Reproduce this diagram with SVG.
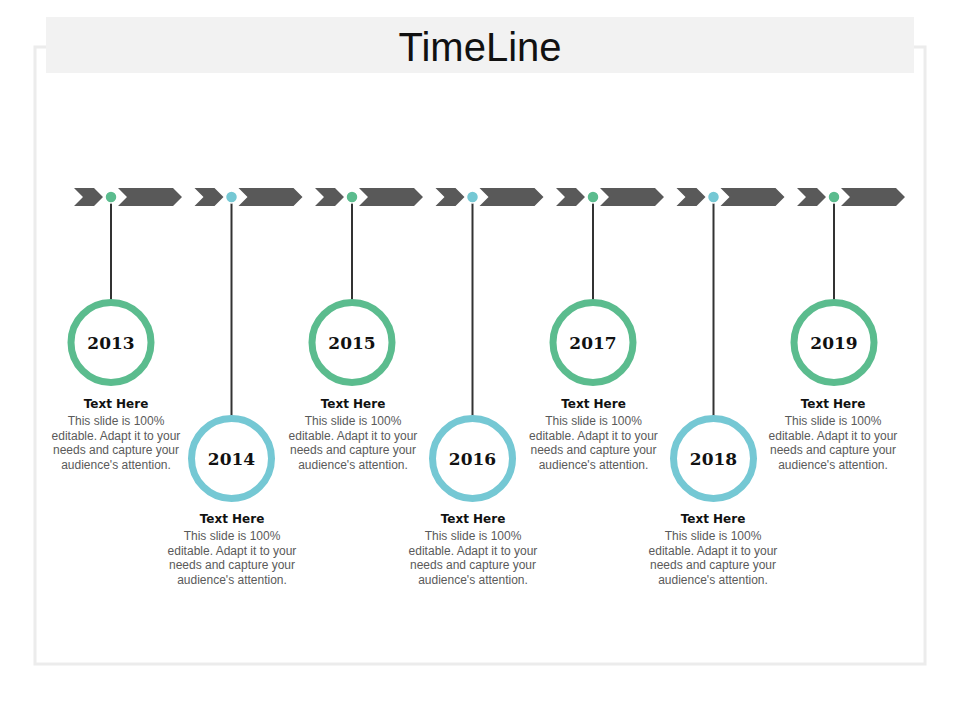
<svg xmlns="http://www.w3.org/2000/svg" width="960" height="720" viewBox="0 0 960 720">
<defs>
<style>
.frame{fill:#fff;stroke:#ececec;stroke-width:3}
.bar{fill:#f2f2f2}
.title{font-family:"Liberation Sans",Arial,sans-serif;font-size:40px;fill:#111;text-anchor:middle}
.chev{fill:#595959}
.stem{stroke:#333;stroke-width:2}
.ring-g{fill:#fff;stroke:#5bbc8e;stroke-width:7}
.ring-b{fill:#fff;stroke:#75c8d4;stroke-width:7}
.dot-g{fill:#5bbc8e;stroke:#fff;stroke-width:1.5}
.dot-b{fill:#75c8d4;stroke:#fff;stroke-width:1.5}
.year{font-family:"DejaVu Serif",serif;font-weight:bold;font-size:17px;fill:#111;text-anchor:middle}
.head{font-family:"DejaVu Sans",sans-serif;font-weight:bold;font-size:12px;fill:#111;text-anchor:middle}
.body{font-family:"Liberation Sans",Arial,sans-serif;font-size:12px;fill:#5a5a5a;text-anchor:middle}
</style>
<polygon id="c1" points="-37,188 -17,188 -8,197 -17,206 -37,206 -28,197"/>
<polygon id="c2" points="7,188 62,188 71,197 62,206 7,206 16,197"/>
</defs>
<rect class="frame" x="35" y="47" width="890" height="617"/>
<rect class="bar" x="46" y="17" width="868" height="56"/>
<text class="title" x="480" y="61">TimeLine</text>

<g id="arrows">
<use href="#c1" class="chev" x="111"/><use href="#c2" class="chev" x="111"/>
<use href="#c1" class="chev" x="231.5"/><use href="#c2" class="chev" x="231.5"/>
<use href="#c1" class="chev" x="352"/><use href="#c2" class="chev" x="352"/>
<use href="#c1" class="chev" x="472.5"/><use href="#c2" class="chev" x="472.5"/>
<use href="#c1" class="chev" x="593"/><use href="#c2" class="chev" x="593"/>
<use href="#c1" class="chev" x="713.5"/><use href="#c2" class="chev" x="713.5"/>
<use href="#c1" class="chev" x="834"/><use href="#c2" class="chev" x="834"/>
</g>

<g id="connectors">
<line class="stem" x1="111" y1="197" x2="111" y2="300"/>
<line class="stem" x1="231.5" y1="197" x2="231.5" y2="416"/>
<line class="stem" x1="352" y1="197" x2="352" y2="300"/>
<line class="stem" x1="472.5" y1="197" x2="472.5" y2="416"/>
<line class="stem" x1="593" y1="197" x2="593" y2="300"/>
<line class="stem" x1="713.5" y1="197" x2="713.5" y2="416"/>
<line class="stem" x1="834" y1="197" x2="834" y2="300"/>
</g>

<g id="node-2013">
<circle class="dot-g" cx="111" cy="197" r="6"/>
<circle class="ring-g" cx="111" cy="342.5" r="40"/>
<text class="year" x="111" y="349">2013</text>
<text class="head" x="116" y="408">Text Here</text>
<text class="body" x="116" y="425">This slide is 100%</text>
<text class="body" x="116" y="439.5">editable. Adapt it to your</text>
<text class="body" x="116" y="454">needs and capture your</text>
<text class="body" x="116" y="468.5">audience's attention.</text>
</g>

<g id="node-2014">
<circle class="dot-b" cx="231.5" cy="197" r="6"/>
<circle class="ring-b" cx="231.5" cy="458.5" r="40"/>
<text class="year" x="231.5" y="465">2014</text>
<text class="head" x="232" y="523">Text Here</text>
<text class="body" x="232" y="540">This slide is 100%</text>
<text class="body" x="232" y="554.5">editable. Adapt it to your</text>
<text class="body" x="232" y="569">needs and capture your</text>
<text class="body" x="232" y="583.5">audience's attention.</text>
</g>

<g id="node-2015">
<circle class="dot-g" cx="352" cy="197" r="6"/>
<circle class="ring-g" cx="352" cy="342.5" r="40"/>
<text class="year" x="352" y="349">2015</text>
<text class="head" x="353" y="408">Text Here</text>
<text class="body" x="353" y="425">This slide is 100%</text>
<text class="body" x="353" y="439.5">editable. Adapt it to your</text>
<text class="body" x="353" y="454">needs and capture your</text>
<text class="body" x="353" y="468.5">audience's attention.</text>
</g>

<g id="node-2016">
<circle class="dot-b" cx="472.5" cy="197" r="6"/>
<circle class="ring-b" cx="472.5" cy="458.5" r="40"/>
<text class="year" x="472.5" y="465">2016</text>
<text class="head" x="473" y="523">Text Here</text>
<text class="body" x="473" y="540">This slide is 100%</text>
<text class="body" x="473" y="554.5">editable. Adapt it to your</text>
<text class="body" x="473" y="569">needs and capture your</text>
<text class="body" x="473" y="583.5">audience's attention.</text>
</g>

<g id="node-2017">
<circle class="dot-g" cx="593" cy="197" r="6"/>
<circle class="ring-g" cx="593" cy="342.5" r="40"/>
<text class="year" x="593" y="349">2017</text>
<text class="head" x="593.5" y="408">Text Here</text>
<text class="body" x="593.5" y="425">This slide is 100%</text>
<text class="body" x="593.5" y="439.5">editable. Adapt it to your</text>
<text class="body" x="593.5" y="454">needs and capture your</text>
<text class="body" x="593.5" y="468.5">audience's attention.</text>
</g>

<g id="node-2018">
<circle class="dot-b" cx="713.5" cy="197" r="6"/>
<circle class="ring-b" cx="713.5" cy="458.5" r="40"/>
<text class="year" x="713.5" y="465">2018</text>
<text class="head" x="713" y="523">Text Here</text>
<text class="body" x="713" y="540">This slide is 100%</text>
<text class="body" x="713" y="554.5">editable. Adapt it to your</text>
<text class="body" x="713" y="569">needs and capture your</text>
<text class="body" x="713" y="583.5">audience's attention.</text>
</g>

<g id="node-2019">
<circle class="dot-g" cx="834" cy="197" r="6"/>
<circle class="ring-g" cx="834" cy="342.5" r="40"/>
<text class="year" x="834" y="349">2019</text>
<text class="head" x="833" y="408">Text Here</text>
<text class="body" x="833" y="425">This slide is 100%</text>
<text class="body" x="833" y="439.5">editable. Adapt it to your</text>
<text class="body" x="833" y="454">needs and capture your</text>
<text class="body" x="833" y="468.5">audience's attention.</text>
</g>
</svg>
